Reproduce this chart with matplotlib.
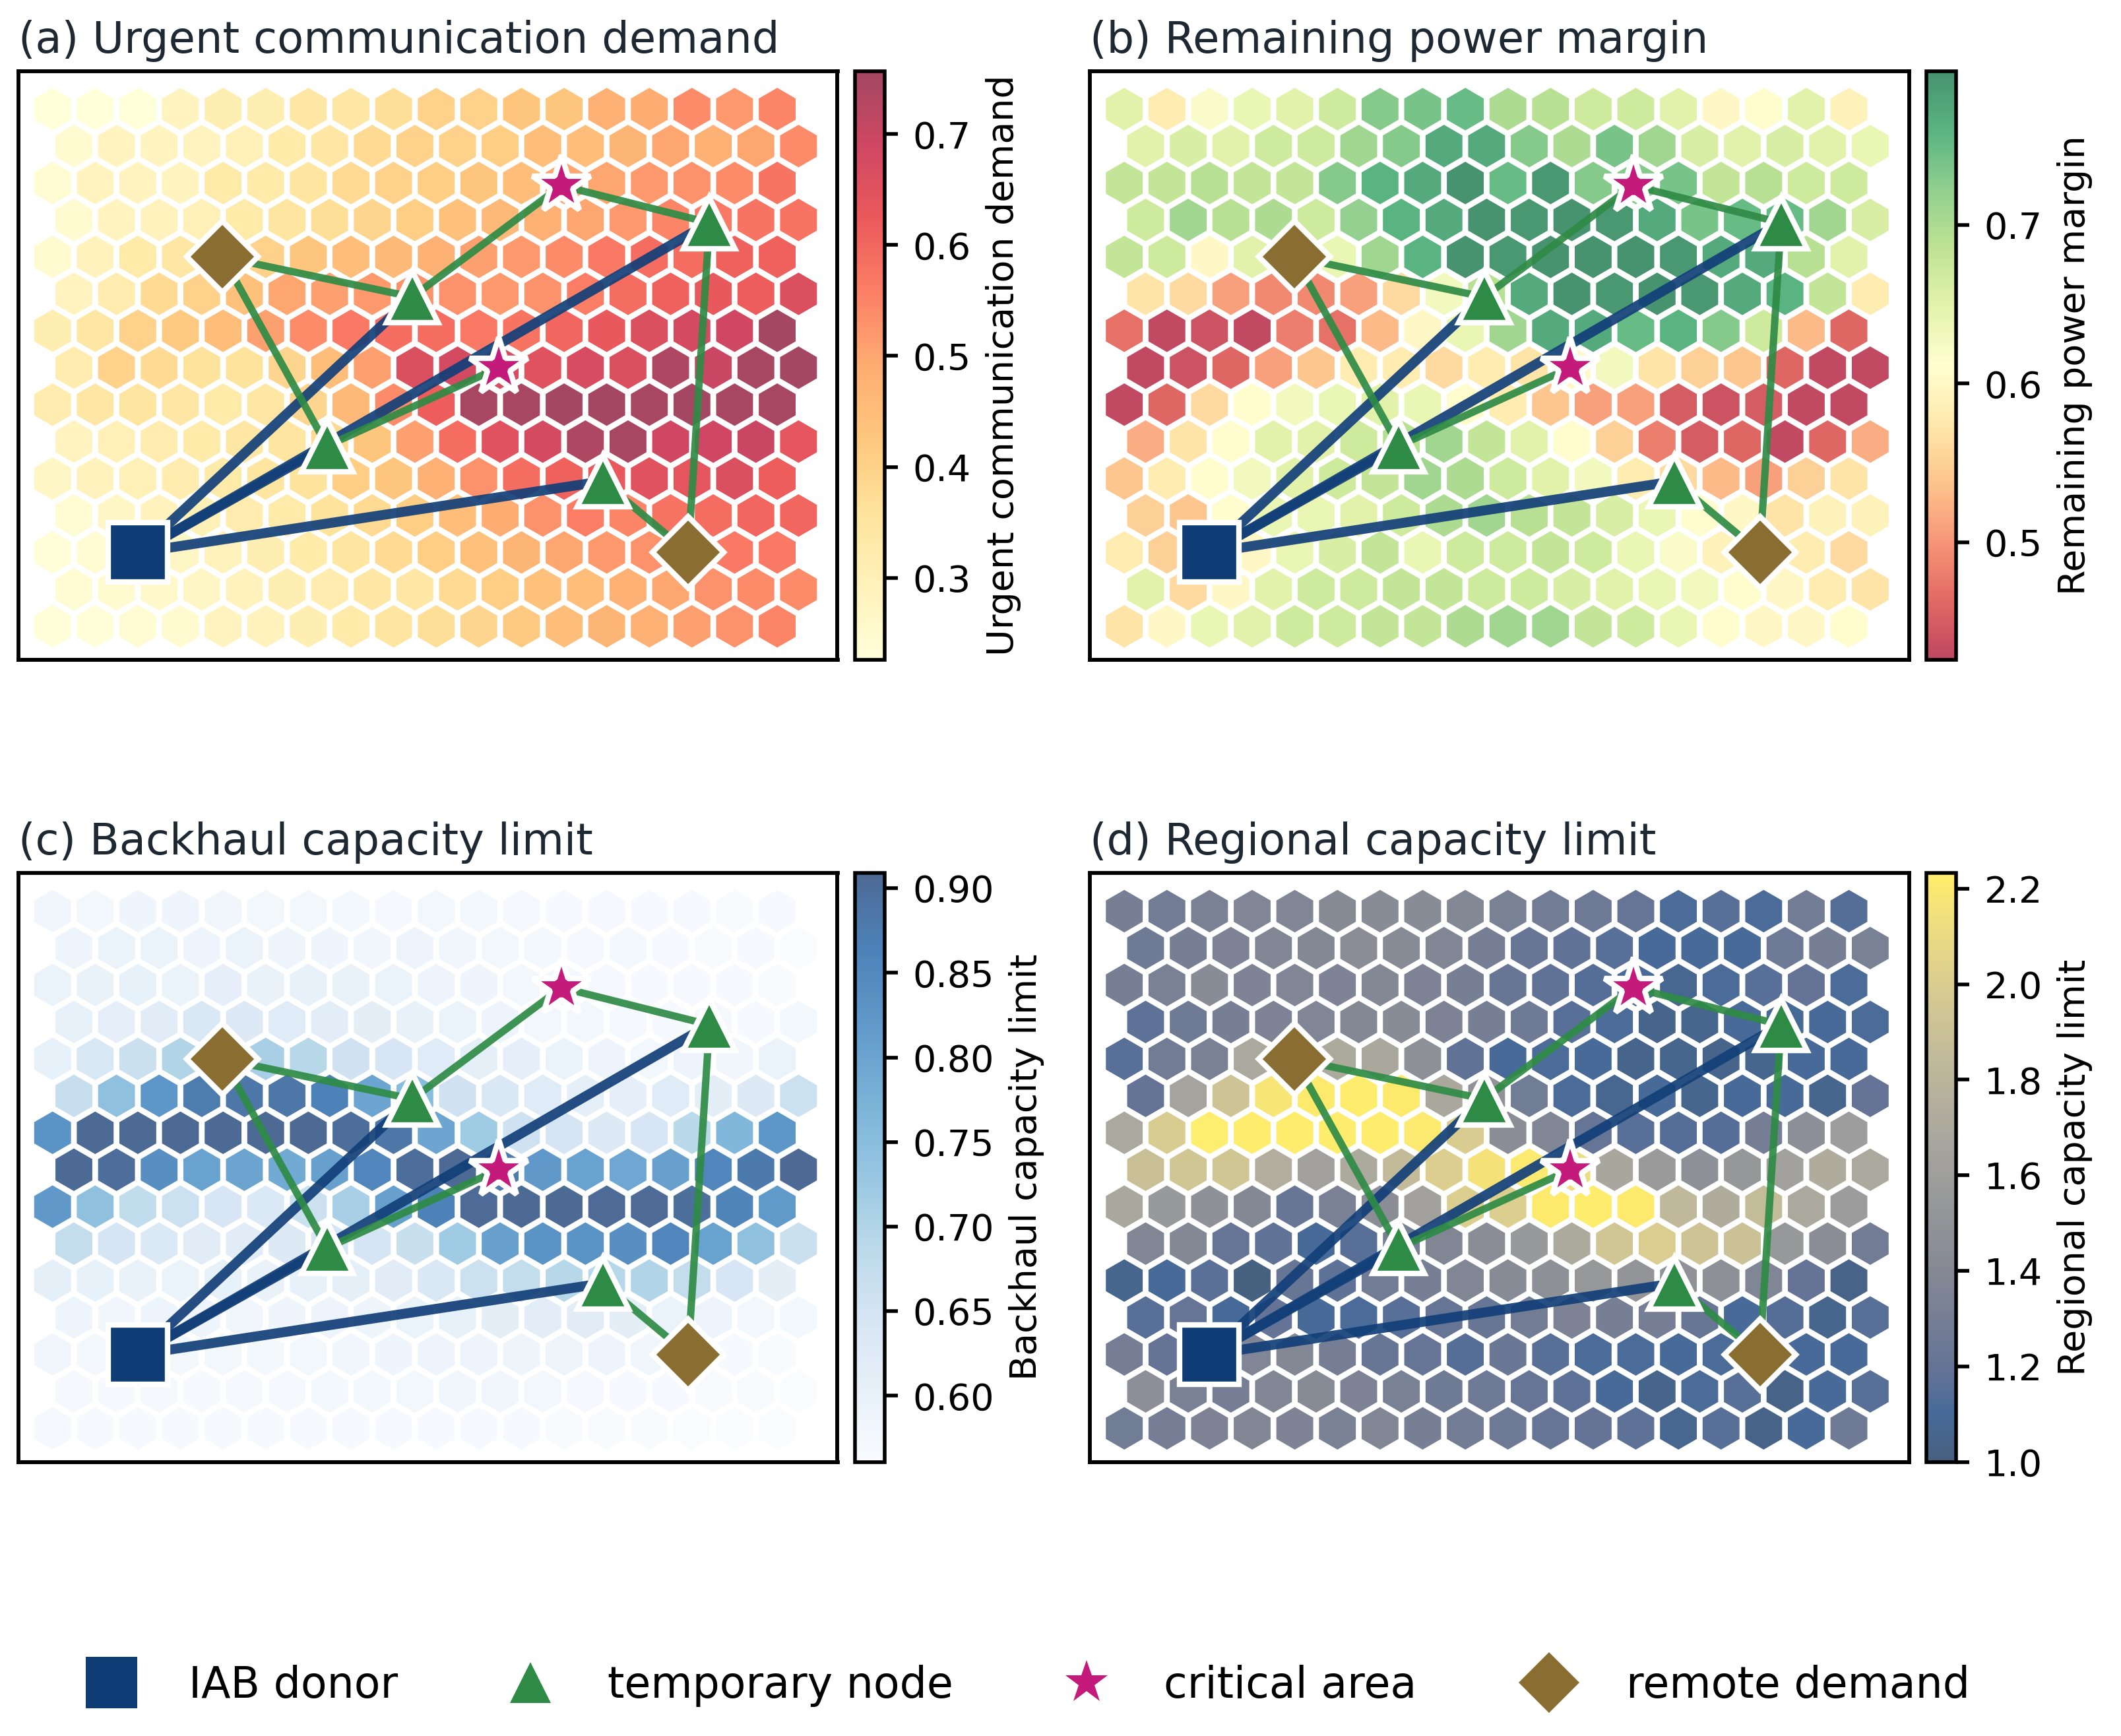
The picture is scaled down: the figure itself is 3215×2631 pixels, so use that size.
import numpy as np
import matplotlib
matplotlib.use("Agg")
import matplotlib.pyplot as plt
from matplotlib.collections import PolyCollection
from matplotlib.colors import Normalize
from matplotlib.lines import Line2D

# ---------------- data (hex grid, 15 rows top->bottom, 18 columns) ----------------
urgent_demand = [
    [.22,.22,.22,.28,.31,.31,.34,.34,.37,.40,.40,.43,.43,.48,.49,.54,.52,.55],
    [.25,.28,.28,.28,.30,.33,.34,.38,.40,.40,.41,.45,.45,.47,.50,.48,.50,.54],
    [.24,.28,.28,.28,.33,.33,.35,.38,.40,.41,.43,.45,.50,.50,.52,.53,.54,.58],
    [.25,.28,.29,.30,.33,.35,.37,.39,.41,.44,.46,.48,.50,.52,.55,.57,.58,.58],
    [.25,.29,.33,.34,.38,.40,.43,.45,.46,.48,.51,.52,.54,.57,.59,.59,.61,.61],
    [.28,.32,.38,.40,.44,.50,.51,.52,.53,.53,.52,.53,.56,.59,.61,.63,.62,.66],
    [.31,.34,.40,.42,.45,.51,.54,.57,.59,.59,.57,.58,.60,.63,.66,.68,.69,.76],
    [.32,.40,.38,.36,.36,.39,.45,.51,.66,.68,.67,.65,.67,.66,.74,.70,.75,.76],
    [.32,.34,.35,.34,.33,.34,.39,.46,.54,.62,.75,.75,.76,.76,.75,.76,.75,.75],
    [.28,.30,.32,.33,.34,.35,.38,.43,.51,.59,.65,.68,.74,.75,.69,.69,.70,.64],
    [.27,.29,.30,.32,.33,.35,.36,.41,.43,.48,.53,.59,.61,.63,.65,.64,.66,.62],
    [.24,.27,.29,.30,.32,.33,.36,.38,.41,.45,.49,.53,.56,.55,.58,.59,.60,.60],
    [.23,.24,.26,.27,.29,.31,.33,.35,.38,.41,.44,.47,.50,.52,.53,.55,.57,.57],
    [.24,.25,.26,.27,.29,.31,.32,.34,.34,.38,.41,.44,.45,.48,.50,.53,.54,.54],
    [.23,.23,.24,.25,.28,.29,.31,.33,.35,.37,.39,.42,.45,.47,.48,.51,.53,.55],
]

power_margin = [
    [.65,.58,.62,.64,.65,.67,.73,.74,.75,.70,.69,.67,.67,.65,.60,.61,.65,.59],
    [.65,.66,.65,.67,.67,.71,.73,.77,.77,.73,.70,.74,.71,.66,.65,.66,.65,.64],
    [.68,.68,.69,.68,.68,.73,.76,.77,.80,.75,.79,.73,.73,.74,.68,.69,.67,.67],
    [.67,.71,.69,.70,.67,.72,.76,.77,.80,.79,.80,.79,.77,.74,.75,.75,.71,.66],
    [.68,.67,.60,.65,.62,.64,.71,.76,.80,.79,.80,.80,.80,.79,.77,.77,.69,.65],
    [.57,.56,.51,.49,.49,.51,.56,.63,.69,.77,.80,.79,.80,.79,.77,.76,.68,.58],
    [.47,.43,.44,.43,.48,.47,.53,.60,.64,.71,.77,.77,.75,.76,.73,.67,.53,.46],
    [.43,.44,.46,.51,.54,.58,.58,.56,.58,.57,.60,.63,.57,.55,.54,.46,.43,.43],
    [.43,.46,.56,.61,.63,.64,.65,.64,.61,.58,.54,.51,.51,.45,.44,.45,.43,.43],
    [.52,.57,.61,.65,.65,.67,.69,.71,.68,.65,.61,.55,.48,.45,.46,.43,.46,.52],
    [.54,.58,.61,.63,.65,.67,.68,.71,.70,.67,.65,.63,.58,.56,.53,.51,.55,.57],
    [.55,.54,.61,.64,.64,.65,.67,.70,.71,.69,.68,.66,.64,.61,.60,.57,.59,.59],
    [.58,.55,.60,.60,.64,.66,.68,.64,.67,.67,.68,.67,.64,.62,.59,.59,.58,.56],
    [.65,.56,.60,.65,.67,.67,.68,.68,.67,.67,.66,.65,.64,.63,.61,.60,.58,.57],
    [.57,.60,.64,.65,.67,.67,.68,.68,.70,.71,.71,.68,.67,.64,.61,.60,.60,.61],
]

backhaul_limit = [
    [.582,.578,.585,.585,.582,.578,.578,.575,.571,.578,.575,.571,.568,.571,.568,.568,.564,.568],
    [.589,.596,.596,.589,.596,.589,.585,.582,.589,.582,.578,.575,.571,.575,.568,.564,.568,.561],
    [.596,.599,.603,.596,.606,.599,.603,.599,.596,.589,.585,.578,.575,.571,.568,.568,.568,.564],
    [.603,.606,.620,.638,.631,.624,.617,.613,.603,.596,.589,.578,.578,.571,.568,.571,.568,.575],
    [.603,.641,.665,.700,.718,.711,.693,.655,.645,.624,.610,.606,.596,.589,.578,.589,.582,.596],
    [.672,.742,.825,.874,.885,.885,.864,.798,.752,.655,.638,.624,.610,.606,.624,.613,.631,.662],
    [.832,.909,.909,.909,.909,.909,.909,.902,.885,.798,.721,.658,.648,.631,.645,.690,.763,.825],
    [.909,.902,.839,.805,.801,.787,.808,.857,.902,.909,.874,.822,.805,.794,.808,.857,.878,.909],
    [.822,.742,.679,.662,.645,.634,.662,.711,.808,.864,.906,.909,.909,.906,.906,.899,.860,.819],
    [.676,.648,.634,.620,.620,.631,.648,.648,.669,.721,.808,.832,.832,.839,.857,.805,.742,.665],
    [.610,.603,.599,.596,.603,.599,.603,.610,.620,.638,.662,.676,.693,.693,.700,.676,.645,.613],
    [.589,.582,.589,.585,.582,.585,.589,.592,.596,.603,.613,.617,.620,.613,.596,.589,.578,.575],
    [.582,.575,.575,.575,.578,.575,.578,.582,.585,.589,.589,.592,.592,.589,.582,.575,.568,.564],
    [.571,.568,.571,.568,.571,.571,.575,.575,.578,.582,.582,.578,.571,.568,.568,.564,.564,.561],
    [.571,.568,.568,.568,.568,.568,.568,.568,.568,.568,.568,.568,.564,.564,.564,.561,.561,.561],
]

regional_limit = [
    [1.31,1.28,1.33,1.37,1.37,1.41,1.43,1.43,1.39,1.32,1.28,1.25,1.21,1.12,1.15,1.12,1.28,1.14],
    [1.26,1.31,1.35,1.38,1.39,1.44,1.42,1.38,1.30,1.22,1.18,1.15,1.10,1.10,1.11,1.25,1.31,1.32],
    [1.31,1.33,1.43,1.36,1.37,1.36,1.39,1.35,1.31,1.22,1.18,1.14,1.11,1.07,1.12,1.15,1.20,1.12],
    [1.17,1.26,1.31,1.35,1.37,1.39,1.43,1.35,1.31,1.26,1.15,1.12,1.05,1.06,1.10,1.09,1.11,1.12],
    [1.15,1.28,1.33,1.69,1.68,1.70,1.68,1.47,1.18,1.11,1.12,1.11,1.05,1.06,1.05,1.06,1.10,1.10],
    [1.20,1.65,1.92,2.18,2.21,2.22,2.21,1.68,1.49,1.27,1.12,1.07,1.10,1.06,1.11,1.10,1.06,1.20],
    [1.69,1.99,2.23,2.22,2.22,2.22,2.22,2.20,1.99,1.44,1.38,1.21,1.15,1.14,1.14,1.30,1.46,1.59],
    [1.89,1.94,1.94,1.74,1.62,1.70,1.85,2.01,2.16,2.20,2.11,1.67,1.57,1.47,1.53,1.63,1.73,1.69],
    [1.68,1.55,1.48,1.39,1.22,1.33,1.44,1.62,2.01,2.01,2.21,2.22,2.21,1.83,1.73,1.86,1.69,1.58],
    [1.38,1.39,1.21,1.18,1.11,1.15,1.31,1.38,1.44,1.55,1.70,1.94,2.00,1.92,1.90,1.54,1.44,1.28],
    [1.06,1.11,1.16,1.01,1.22,1.17,1.28,1.31,1.38,1.42,1.47,1.54,1.51,1.49,1.47,1.37,1.20,1.04],
    [1.15,1.21,1.10,1.20,1.11,1.12,1.15,1.21,1.22,1.28,1.35,1.31,1.30,1.22,1.11,1.14,1.06,1.15],
    [1.30,1.20,1.18,1.37,1.39,1.30,1.22,1.21,1.14,1.23,1.15,1.12,1.12,1.10,1.12,1.10,1.10,1.11],
    [1.46,1.32,1.30,1.38,1.42,1.35,1.32,1.26,1.25,1.21,1.17,1.10,1.05,1.12,1.15,1.04,1.10,1.15],
    [1.27,1.30,1.35,1.38,1.36,1.32,1.38,1.31,1.28,1.25,1.21,1.20,1.17,1.07,1.15,1.04,1.11,1.26],
]

# node positions (hex-grid units)
donor_x = [2.0]
donor_y = [1.73]
temp_x = [8.44, 6.44, 15.41, 12.91]
temp_y = [7.72, 4.23, 9.46, 3.40]
crit_x = [11.94, 10.46]
crit_y = [10.33, 6.06]
remote_x = [3.99, 14.91]
remote_y = [8.66, 1.73]

# links
backhaul_links = [(0, 0), (0, 1), (0, 2), (0, 3)]           # donor -> temp
access_links = [("r", 0, "t", 0), ("r", 0, "t", 1), ("t", 0, "c", 0),
                ("c", 0, "t", 2), ("t", 1, "c", 1), ("t", 2, "r", 1),
                ("t", 3, "r", 1)]

legend_labels = ["IAB donor", "temporary node", "critical area", "remote demand"]

panel_titles = ["(a) Urgent communication demand", "(b) Remaining power margin",
                "(c) Backhaul capacity limit", "(d) Regional capacity limit"]
cbar_labels = ["Urgent communication demand", "Remaining power margin",
               "Backhaul capacity limit", "Regional capacity limit"]
cbar_ticks = [[0.3, 0.4, 0.5, 0.6, 0.7], [0.5, 0.6, 0.7],
              [0.60, 0.65, 0.70, 0.75, 0.80, 0.85, 0.90],
              [1.0, 1.2, 1.4, 1.6, 1.8, 2.0, 2.2]]
cbar_limits = [(0.226, 0.757), (0.426, 0.797), (0.561, 0.909), (1.0, 2.233)]
cmaps = ["YlOrRd", "RdYlGn", "Blues", "cividis"]

# ---------------- style ----------------
C_DONOR = "#0e3c74"
C_TEMP = "#2e8b45"
C_CRIT = "#c41a7b"
C_REMOTE = "#8a6d31"
C_BLUE_LINE = "#123f78"
C_GREEN_LINE = "#2e8b45"
C_TITLE = "#1e2832"

plt.rcParams["font.family"] = ["DejaVu Sans"]

fig = plt.figure(figsize=(8.04, 6.5775), dpi=400)

W, H = 3216.0, 2631.0
AX_W, AX_H = 1241.5, 892.5
ax_rects = [
    (28 / W, 1 - 1000 / H, AX_W / W, AX_H / H),
    (1652.5 / W, 1 - 1000 / H, AX_W / W, AX_H / H),
    (28 / W, 1 - 2215.5 / H, AX_W / W, AX_H / H),
    (1652.5 / W, 1 - 2215.5 / H, AX_W / W, AX_H / H),
]
grids = [urgent_demand, power_margin, backhaul_limit, regional_limit]

SQ3 = np.sqrt(3.0)
R = 0.499  # drawn hexagon radius (cell pitch = 1) leaving a white gap
ang = np.deg2rad(np.arange(6) * 60 + 30)


def hexagon(cx, cy):
    return np.column_stack([cx + R * np.cos(ang), cy + R * np.sin(ang)])


def node_xy(kind, i):
    if kind == "t":
        return temp_x[i], temp_y[i]
    if kind == "c":
        return crit_x[i], crit_y[i]
    if kind == "r":
        return remote_x[i], remote_y[i]
    return donor_x[i], donor_y[i]


for p in range(4):
    l, b, w, h = ax_rects[p]
    ax = fig.add_axes([l, b, w, h])
    cax = fig.add_axes([l + w + 26.5 / W, b, 45 / W, h])
    grid = grids[p]
    nr = len(grid)
    verts, vals = [], []
    for r, row in enumerate(grid):
        k = nr - 1 - r
        for c, v in enumerate(row):
            cx = c + 0.5 * (k % 2)
            cy = k * SQ3 / 2
            verts.append(hexagon(cx, cy))
            vals.append(v)
    vmin, vmax = cbar_limits[p]
    pc = PolyCollection(verts, array=np.array(vals), cmap=cmaps[p],
                        norm=Normalize(vmin, vmax), edgecolors="none",
                        linewidths=0, alpha=0.72, zorder=1)
    ax.add_collection(pc)

    # backhaul links (donor -> temporary nodes)
    for d, t in backhaul_links:
        ax.plot([donor_x[d], temp_x[t]], [donor_y[d], temp_y[t]],
                color=C_BLUE_LINE, lw=2.7, alpha=0.92, zorder=3,
                solid_capstyle="butt")
    for k1, i1, k2, i2 in access_links:
        x1, y1 = node_xy(k1, i1)
        x2, y2 = node_xy(k2, i2)
        ax.plot([x1, x2], [y1, y2], color=C_GREEN_LINE, lw=2.0, alpha=0.92,
                zorder=3.5, solid_capstyle="butt")

    ax.plot(donor_x, donor_y, ls="none", marker="s", ms=16.2, mfc=C_DONOR,
            mec="white", mew=1.5, zorder=6)
    ax.plot(temp_x, temp_y, ls="none", marker="^", ms=14.0, mfc=C_TEMP,
            mec="white", mew=1.5, zorder=6)
    ax.plot(crit_x, crit_y, ls="none", marker="*", ms=16.5, mfc=C_CRIT,
            mec="white", mew=1.5, zorder=6)
    ax.plot(remote_x, remote_y, ls="none", marker="D", ms=13.8, mfc=C_REMOTE,
            mec="white", mew=1.5, zorder=6)

    ax.set_xlim(-0.80, 18.415)
    ax.set_ylim(-0.786, 13.02)
    ax.set_xticks([])
    ax.set_yticks([])
    for s in ax.spines.values():
        s.set_linewidth(1.05)
        s.set_color("black")
    ax.set_title(panel_titles[p], loc="left", fontsize=11.8, color=C_TITLE, pad=5)

    cb = fig.colorbar(pc, cax=cax)
    cb.set_ticks(cbar_ticks[p])
    cb.ax.tick_params(labelsize=10, length=3.6, width=1.0, pad=4)
    cb.outline.set_linewidth(1.0)
    cb.set_label(cbar_labels[p], fontsize=10)

handles = [
    Line2D([], [], ls="none", marker="s", ms=14.2, color=C_DONOR, mew=0),
    Line2D([], [], ls="none", marker="^", ms=11.3, color=C_TEMP, mew=0),
    Line2D([], [], ls="none", marker="*", ms=12.3, color=C_CRIT, mew=0),
    Line2D([], [], ls="none", marker="D", ms=11.8, color=C_REMOTE, mew=0),
]
fig.legend(handles, legend_labels, loc="center", bbox_to_anchor=(1545 / W, 76 / H),
           ncol=4, frameon=False, fontsize=11.7, columnspacing=2.1,
           handletextpad=0.8, handlelength=2.0)

fig.savefig("out.png", dpi=400)
